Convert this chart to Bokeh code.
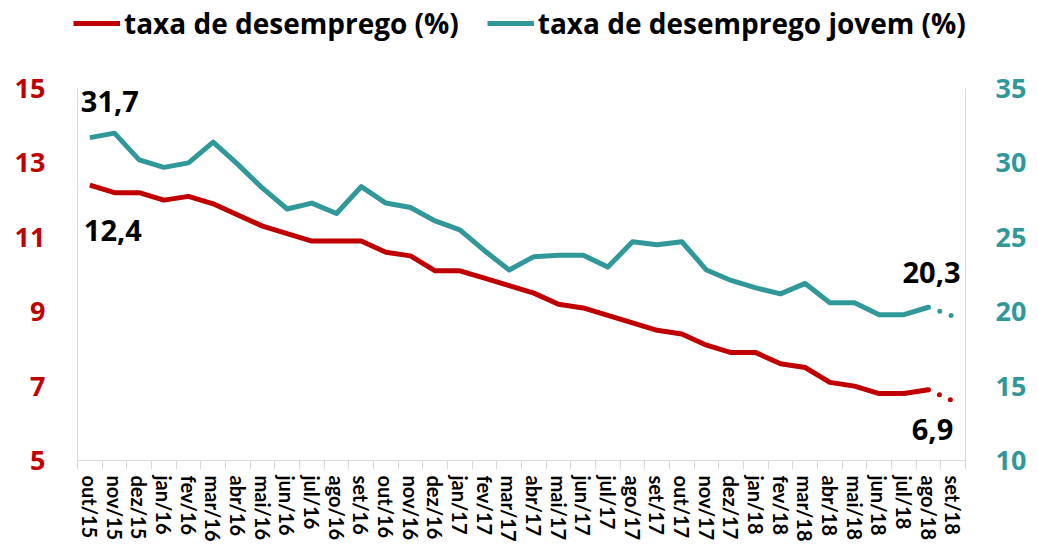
from bokeh.plotting import figure
from bokeh.layouts import column, row
from bokeh.models import (Range1d, LinearAxis, FixedTicker, Legend, LegendItem,
                          ColumnDataSource)
from bokeh.core.properties import value
from bokeh.embed import file_html
from bokeh.resources import INLINE

months = ["out/15", "nov/15", "dez/15", "jan/16", "fev/16", "mar/16", "abr/16",
          "mai/16", "jun/16", "jul/16", "ago/16", "set/16", "out/16", "nov/16",
          "dez/16", "jan/17", "fev/17", "mar/17", "abr/17", "mai/17", "jun/17",
          "jul/17", "ago/17", "set/17", "out/17", "nov/17", "dez/17", "jan/18",
          "fev/18", "mar/18", "abr/18", "mai/18", "jun/18", "jul/18", "ago/18",
          "set/18"]
desemprego = [12.4, 12.2, 12.2, 12.0, 12.1, 11.9, 11.6, 11.3, 11.1, 10.9,
              10.9, 10.9, 10.6, 10.5, 10.1, 10.1, 9.9, 9.7, 9.5, 9.2,
              9.1, 8.9, 8.7, 8.5, 8.4, 8.1, 7.9, 7.9, 7.6, 7.5,
              7.1, 7.0, 6.8, 6.8, 6.9, 6.6]
jovem = [31.7, 32.0, 30.2, 29.7, 30.0, 31.4, 29.9, 28.3, 26.9, 27.3,
         26.6, 28.4, 27.3, 27.0, 26.1, 25.5, 24.1, 22.8, 23.7, 23.8,
         23.8, 23.0, 24.7, 24.5, 24.7, 22.8, 22.1, 21.6, 21.2, 21.9,
         20.6, 20.6, 19.8, 19.8, 20.3, 19.7]
left_ticks = [5, 7, 9, 11, 13, 15]
right_ticks = [10, 15, 20, 25, 30, 35]
series_names = ["taxa de desemprego (%)", "taxa de desemprego jovem (%)"]

RED = "#C00000"
TEAL = "#31989A"
GRAY = "#D9D9D9"
FONT = "Open Sans"

W = 1030
LEG_H = 42
MAIN_H = 544 - LEG_H

last = len(months) - 2  # index of ago/18 (last solid point)
xs = list(range(len(months)))

# ---------- legend strip (series drawn off-range; only the legend shows) ----------
lg = figure(width=W, height=LEG_H, output_backend="svg", toolbar_location=None,
            x_axis_location=None, y_axis_location=None,
            x_range=Range1d(-0.5, len(months) - 0.5), y_range=Range1d(100, 101),
            min_border_left=0, min_border_right=0, min_border_top=0,
            min_border_bottom=0, outline_line_color=None)
lg.xgrid.visible = False
lg.ygrid.visible = False
lr = lg.line(xs, desemprego, line_color=RED, line_width=5)
lt = lg.line(xs, jovem, line_color=TEAL, line_width=5)
legend = Legend(items=[LegendItem(label=series_names[0], renderers=[lr]),
                       LegendItem(label=series_names[1], renderers=[lt])],
                orientation="horizontal", location=(73, 0),
                padding=0, margin=0, spacing=28, label_standoff=4,
                glyph_width=47, glyph_height=30, label_height=30,
                label_text_font=FONT, label_text_font_style="bold",
                label_text_font_size="28px", label_text_color="black",
                border_line_color=None, background_fill_alpha=0)
lg.add_layout(legend, "center")

# ---------- main chart ----------
p = figure(width=W, height=MAIN_H, output_backend="svg", toolbar_location=None,
           x_range=Range1d(-0.5, len(months) - 0.5), y_range=Range1d(5, 15),
           min_border_left=77, min_border_right=65, min_border_top=88 - LEG_H,
           min_border_bottom=84, outline_line_color=None)
p.extra_y_ranges = {"right": Range1d(10, 35)}
p.xgrid.visible = False
p.ygrid.visible = False

p.line(xs[:last + 1], desemprego[:last + 1], line_color=RED, line_width=5,
       line_join="round")
p.line(xs[last:], desemprego[last:], line_color=RED, line_width=5,
       line_dash="0 12", line_cap="round")
p.line(xs[:last + 1], jovem[:last + 1], line_color=TEAL, line_width=5,
       line_join="round", y_range_name="right")
p.line(xs[last:], jovem[last:], line_color=TEAL, line_width=5,
       line_dash="0 12", line_cap="round", y_range_name="right")

def fmt(v):
    return f"{v:.1f}".replace(".", ",")

red_lab = ColumnDataSource(dict(x=[0, last], y=[desemprego[0], desemprego[last]],
                                t=[fmt(desemprego[0]), fmt(desemprego[last])],
                                xo=[-6, 4], yo=[45, 40], al=["left", "center"]))
teal_lab = ColumnDataSource(dict(x=[0, last], y=[jovem[0], jovem[last]],
                                 t=[fmt(jovem[0]), fmt(jovem[last])],
                                 xo=[-9, 3], yo=[-36, -35], al=["left", "center"]))
for src, rng in ((red_lab, "default"), (teal_lab, "right")):
    p.text(x="x", y="y", text="t", source=src, x_offset="xo", y_offset="yo",
           text_align="al", text_baseline="middle", text_font=value(FONT),
           text_font_style="bold", text_font_size="29px", text_color="black",
           y_range_name=rng)

xa = p.xaxis[0]
xa.ticker = FixedTicker(ticks=xs, minor_ticks=[i - 0.5 for i in range(len(months) + 1)])
xa.major_label_overrides = {i: m for i, m in enumerate(months)}
xa.major_label_orientation = "vertical"
xa.major_tick_line_color = None
xa.major_tick_out = 0
xa.minor_tick_line_color = GRAY
xa.minor_tick_out = 9
xa.minor_tick_in = 0
xa.axis_line_color = GRAY
xa.major_label_standoff = 6
xa.major_label_text_font = "Lato"
xa.major_label_text_font_style = "bold"
xa.major_label_text_font_size = "20px"
xa.major_label_text_color = "black"

ya = p.yaxis[0]
ya.ticker = FixedTicker(ticks=left_ticks)
ya.major_tick_line_color = None
ya.minor_tick_line_color = None
ya.major_tick_out = 0
ya.axis_line_color = GRAY
ya.major_label_standoff = 32
ya.major_label_text_font = FONT
ya.major_label_text_font_style = "bold"
ya.major_label_text_font_size = "27px"
ya.major_label_text_color = RED

ra = LinearAxis(y_range_name="right", ticker=FixedTicker(ticks=right_ticks))
ra.major_tick_line_color = None
ra.minor_tick_line_color = None
ra.major_tick_out = 0
ra.axis_line_color = GRAY
ra.major_label_standoff = 30
ra.major_label_text_font = FONT
ra.major_label_text_font_style = "bold"
ra.major_label_text_font_size = "27px"
ra.major_label_text_color = TEAL
p.add_layout(ra, "right")

layout = column(row(lg), p, spacing=0)
open("out.html", "w").write(file_html(layout, INLINE))
